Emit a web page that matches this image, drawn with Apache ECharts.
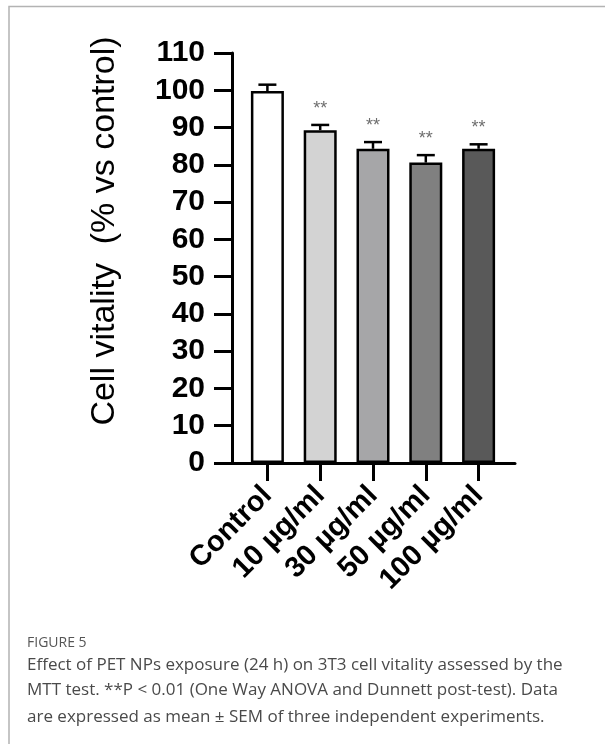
<!DOCTYPE html>
<html>
<head>
<meta charset="utf-8">
<script src="https://cdn.jsdelivr.net/npm/echarts@6/dist/echarts.min.js"></script>
<style>
html,body{margin:0;padding:0;background:#fff;}
#c{width:605px;height:744px;}
</style>
</head>
<body>
<div id="c"></div>
<script>
// ---- data ----
var categories = ['Control', '10 µg/ml', '30 µg/ml', '50 µg/ml', '100 µg/ml'];
var means = [99.8, 89.3, 84.3, 80.6, 84.3];
var sems = [1.7, 1.4, 1.8, 2.0, 1.2];
var significance = ['', '**', '**', '**', '**'];
var barColors = ['#ffffff', '#d3d3d3', '#a6a6a8', '#808080', '#595959'];
var yTicks = { min: 0, max: 110, step: 10 };

var chart = echarts.init(document.getElementById('c'), null, { renderer: 'canvas' });

var barData = means.map(function (v, i) {
  return { value: v, itemStyle: { color: barColors[i] } };
});
var errData = means.map(function (v, i) { return [i, v, sems[i], significance[i]]; });

var FONT = 'Liberation Sans, Arial, sans-serif';
var CAP = 'Open Sans, sans-serif';

var option = {
  backgroundColor: '#ffffff',
  animation: false,
  grid: [
    { left: 241, right: 100, top: 53, bottom: 281 },
    { left: 232, right: 90, top: 53, bottom: 281 }
  ],
  xAxis: [
    {
      type: 'category', gridIndex: 0, data: categories,
      axisLine: { show: false },
      axisTick: { show: true, alignWithLabel: true, length: 18, lineStyle: { color: '#000', width: 3 } },
      axisLabel: {
        rotate: 45, margin: 28, color: '#000', fontSize: 29, fontWeight: 'bold',
        fontFamily: FONT, interval: 0
      }
    },
    {
      type: 'value', gridIndex: 1, min: 0, max: 1,
      axisLine: { show: true, onZero: false, lineStyle: { color: '#000', width: 3 } },
      axisTick: { show: false }, axisLabel: { show: false }, splitLine: { show: false }
    }
  ],
  yAxis: [
    {
      type: 'value', gridIndex: 0, min: yTicks.min, max: yTicks.max, interval: yTicks.step,
      offset: 9,
      name: 'Cell vitality  (% vs control)', nameLocation: 'middle', nameGap: 110,
      nameTextStyle: { color: '#000', fontSize: 34, fontFamily: FONT, padding: [0, 0, 0, 54] },
      axisLine: { show: true, lineStyle: { color: '#000', width: 3 } },
      axisTick: { show: true, length: 18, lineStyle: { color: '#000', width: 3 } },
      axisLabel: { margin: 27, color: '#000', fontSize: 30, fontWeight: 'bold', fontFamily: FONT },
      splitLine: { show: false }
    },
    { type: 'value', gridIndex: 1, show: false, min: 0, max: 1 }
  ],
  series: [
    {
      type: 'bar', xAxisIndex: 0, yAxisIndex: 0, data: barData, barWidth: 33,
      itemStyle: { borderColor: '#000', borderWidth: 2.5 }, z: 2
    },
    {
      type: 'custom', xAxisIndex: 0, yAxisIndex: 0, data: errData, z: 3,
      renderItem: function (params, api) {
        var x = api.value(0), m = api.value(1), e = api.value(2);
        var sig = errData[params.dataIndex][3];
        var pBase = api.coord([x, m]);
        var pTop = api.coord([x, m + e]);
        var hw = 9;
        var st = { stroke: '#000', lineWidth: 2.5 };
        var children = [
          { type: 'line', shape: { x1: pBase[0], y1: pBase[1], x2: pTop[0], y2: pTop[1] }, style: st },
          { type: 'line', shape: { x1: pTop[0] - hw, y1: pTop[1], x2: pTop[0] + hw, y2: pTop[1] }, style: st }
        ];
        if (sig) {
          children.push({
            type: 'text',
            style: { text: sig, x: pTop[0], y: pTop[1] - 7, textAlign: 'center', textVerticalAlign: 'bottom',
              fill: '#6e6e6e', fontSize: 18, fontFamily: FONT }
          });
        }
        return { type: 'group', children: children };
      }
    }
  ],
  graphic: [
    { type: 'polyline', shape: { points: [[9, 744], [9, 6.5], [605, 6.5]] }, style: { stroke: '#b3b3b3', lineWidth: 1.5, fill: null } },
    { type: 'text', left: 27, top: 636, style: { text: 'FIGURE 5', fill: '#555', fontSize: 14, fontFamily: CAP } },
    { type: 'text', left: 27, top: 657, style: { text: 'Effect of PET NPs exposure (24 h) on 3T3 cell vitality assessed by the', fill: '#4a4a4a', fontSize: 17, fontFamily: CAP } },
    { type: 'text', left: 27, top: 682, style: { text: 'MTT test. **P < 0.01 (One Way ANOVA and Dunnett post-test). Data', fill: '#4a4a4a', fontSize: 17, fontFamily: CAP } },
    { type: 'text', left: 27, top: 709, style: { text: 'are expressed as mean ± SEM of three independent experiments.', fill: '#4a4a4a', fontSize: 17, fontFamily: CAP } }
  ]
};
chart.setOption(option);
</script>
</body>
</html>
